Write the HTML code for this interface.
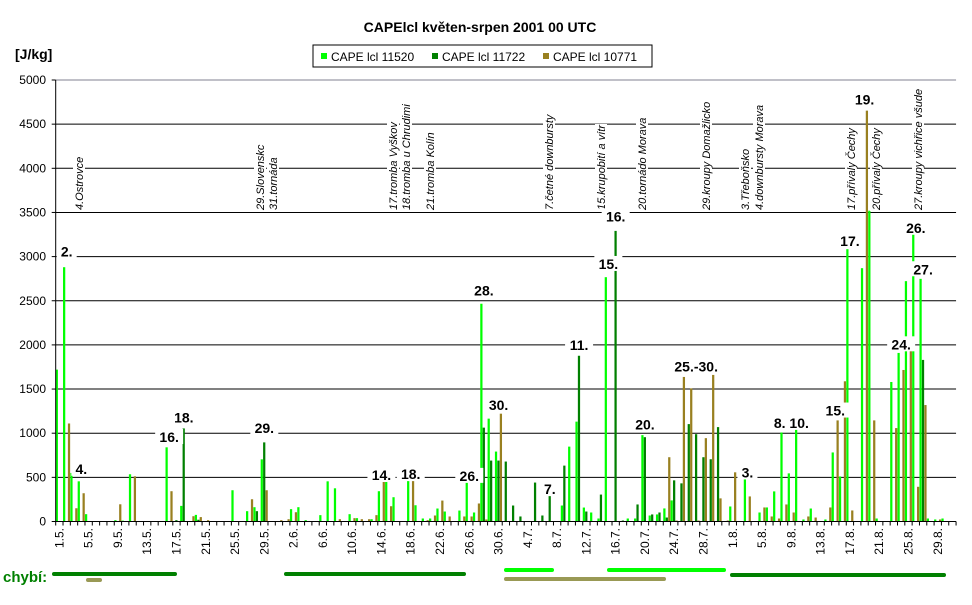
<!DOCTYPE html>
<html><head><meta charset="utf-8">
<style>
html,body{margin:0;padding:0;background:#fff;}
svg{display:block;font-family:"Liberation Sans",Arial,sans-serif;}
</style></head>
<body>
<svg id="chart" width="972" height="605" viewBox="0 0 972 605" xmlns="http://www.w3.org/2000/svg">
<text x="480" y="32" font-size="14" font-weight="bold" text-anchor="middle">CAPElcl květen-srpen 2001 00 UTC</text>
<text x="15" y="59" font-size="14" font-weight="bold">[J/kg]</text>
<g>
<rect x="313" y="45" width="339" height="22" fill="#fff" stroke="#000"/>
<rect x="321" y="53" width="6" height="6" fill="#00ff00"/>
<text x="331" y="61" font-size="12">CAPE lcl 11520</text>
<rect x="432" y="53" width="6" height="6" fill="#008000"/>
<text x="442" y="61" font-size="12">CAPE lcl 11722</text>
<rect x="543" y="53" width="6" height="6" fill="#998020"/>
<text x="553" y="61" font-size="12">CAPE lcl 10771</text>
</g>
<g id="grid"></g>
<g id="bars"></g>
<g id="notes"></g>
<g id="axes"></g>
<g>
<text x="3" y="582" font-size="15" font-weight="bold" fill="#008000">chybí:</text>
<line x1="54" y1="574" x2="175" y2="574" stroke="#008000" stroke-width="4" stroke-linecap="round"/>
<line x1="286" y1="574" x2="464" y2="574" stroke="#008000" stroke-width="4" stroke-linecap="round"/>
<line x1="732" y1="575" x2="944" y2="575" stroke="#008000" stroke-width="4" stroke-linecap="round"/>
<line x1="506" y1="570" x2="552" y2="570" stroke="#00ff00" stroke-width="4" stroke-linecap="round"/>
<line x1="609" y1="570" x2="724" y2="570" stroke="#00ff00" stroke-width="4" stroke-linecap="round"/>
<line x1="88" y1="580" x2="100" y2="580" stroke="#999955" stroke-width="4" stroke-linecap="round"/>
<line x1="506" y1="579" x2="664" y2="579" stroke="#999955" stroke-width="4" stroke-linecap="round"/>
</g>
</svg>
<script>
const seriesNames = ["CAPE lcl 11520","CAPE lcl 11722","CAPE lcl 10771"];
const cape11520 = [1720,2880,550,455,83,0,0,0,15,10,535,0,0,0,0,840,0,177,0,75,0,0,0,0,354,0,117,162,704,0,0,0,140,162,15,0,72,455,376,0,83,38,0,26,343,493,275,0,580,184,34,34,147,113,0,124,600,102,2466,1165,792,0,0,0,0,0,0,0,0,181,848,1131,158,102,34,2767,0,0,34,34,978,68,80,148,239,0,0,0,0,0,0,0,170,0,478,0,102,159,341,1008,545,1043,23,147,0,23,782,510,3084,0,2869,3520,34,0,1580,1909,2722,3251,2748,34,23,34,0];
const cape11722 = [0,0,0,0,0,0,0,0,0,0,0,0,0,0,0,0,15,1054,0,20,0,0,0,0,0,0,0,117,896,0,0,0,0,0,0,0,0,0,0,0,0,0,0,0,0,0,0,0,0,0,0,0,0,0,0,0,0,0,1063,690,690,679,181,57,0,441,68,294,0,633,0,1877,113,0,305,0,3291,11,0,193,955,80,102,45,466,432,1103,989,728,705,1069,0,0,0,0,0,0,0,0,0,0,0,0,0,0,0,0,0,0,0,0,0,0,0,0,0,0,0,1830,0,0,0,0];
const cape10771 = [0,1110,150,320,0,0,0,0,195,0,512,0,0,0,0,343,0,0,60,50,15,0,0,0,0,0,252,0,354,0,15,26,105,0,0,0,0,0,26,0,38,26,26,72,614,173,0,0,478,0,15,68,237,57,0,57,57,204,23,0,1221,0,0,0,0,0,0,0,0,0,0,0,0,0,0,0,0,0,0,0,0,0,0,728,11,1637,1508,11,944,1660,262,11,557,0,284,0,159,57,34,193,102,0,57,45,0,159,1145,1588,125,0,4653,1145,0,0,1058,1716,1992,393,1319,0,23,0,0];
const yTicks = [0,500,1000,1500,2000,2500,3000,3500,4000,4500,5000];
const xTickLabels = ["1.5.","5.5.","9.5.","13.5.","17.5.","21.5.","25.5.","29.5.","2.6.","6.6.","10.6.","14.6.","18.6.","22.6.","26.6.","30.6.","4.7.","8.7.","12.7.","16.7.","20.7.","24.7.","28.7.","1.8.","5.8.","9.8.","13.8.","17.8.","21.8.","25.8.","29.8."];
const peakLabels = ["2.","4.","16.","18.","29.","14.","18.","26.","28.","30.","7.","11.","15.","16.","20.","25.-30.","3.","8. 10.","15.","17.","19.","24.","26.","27."];
const peakDays = [1,3,15,17,28,44,48,56,58,60,67,71,75,76,80,87,94,100,106,108,110,115,117,118];
const peakValues = [3000,540,900,1120,1000,470,480,460,2560,1260,310,1940,2860,3400,1040,1700,500,1060,1200,3120,4720,1950,3270,2800];
const eventNotes = ["4.Ostrovce","29.Slovenskc","31.tornáda","17.tromba Vyškov","18.tromba u Chrudimi","21.tromba Kolín","7.četné downbursty","15.krupobití a vítr","20.tornádo Morava","29.kroupy Domažlicko","3.Třeboňsko","4.downbursty Morava","17.přívaly Čechy","20.přívaly Čechy","27.kroupy vichřice všude"];
const eventNoteX = [79,260,273,393,406,430,549,601,642,706,745,759,851,876,918];

const NS="http://www.w3.org/2000/svg";
const X0=55.7, PITCH=7.32, Y0=521.5, YTOP=80, VMAX=5000;
const nDays=cape11520.length;
function xDay(i){return X0+i*PITCH;}
function yVal(v){return Y0-(v/VMAX)*(Y0-YTOP);}
function mk(tag,attrs,parent){const e=document.createElementNS(NS,tag);for(const k in attrs)e.setAttribute(k,attrs[k]);parent.appendChild(e);return e;}

const grid=document.getElementById('grid');
yTicks.forEach((t,i)=>{
  const ln=mk('line',{x1:X0,x2:X0+nDays*PITCH,y1:yVal(t),y2:yVal(t),stroke:t===VMAX?'#808090':'#000','stroke-width':1},grid);
  
  
  const lb=mk('text',{x:46,y:yVal(t)+4,'font-size':12,'text-anchor':'end'},grid);
  lb.textContent=String(t);
  
  
});

const notes=document.getElementById('notes');
eventNotes.forEach((t,k)=>{
  const x=eventNoteX[k]+4;
  const g=mk('g',{transform:'translate('+x+',210) rotate(-90)'},notes);
  const tx=mk('text',{x:0,y:0,'font-size':11,'font-style':'italic'},g);
  tx.textContent=t;
  
  
  const w=tx.getComputedTextLength();
  const bg=document.createElementNS(NS,'rect');
  bg.setAttribute('x',-1);bg.setAttribute('y',-10);bg.setAttribute('width',w+2);bg.setAttribute('height',12);bg.setAttribute('fill','#fff');
  
  
  g.insertBefore(bg,tx);
});

const bars=document.getElementById('bars');
const series=[cape11520,cape11722,cape10771];
const colors=["#00ff00","#008000","#998020"];
const bw=PITCH/3;
series.forEach((arr,s)=>{
  arr.forEach((v,i)=>{
    if(v<=0)return;
    const r=mk('rect',{x:xDay(i)+s*bw,y:yVal(v),width:bw-0.2,height:Y0-yVal(v),fill:colors[s]},bars);
    
    
  });
});

peakLabels.forEach((t,k)=>{
  const x=xDay(peakDays[k])+PITCH/2, y=yVal(peakValues[k]);
  const w=t.length*8+4;
  const bg=mk('rect',{x:x-w/2,y:y-13,width:w,height:15,fill:'#fff'},notes);
  
  
  const tx=mk('text',{x:x,y:y,'font-size':14,'font-weight':'bold','text-anchor':'middle'},notes);
  tx.textContent=t;
  
  
});

const axes=document.getElementById('axes');
const ya=mk('line',{x1:X0,x2:X0,y1:YTOP,y2:Y0,stroke:'#000'},axes);


const xa=mk('line',{x1:X0,x2:X0+nDays*PITCH,y1:Y0,y2:Y0,stroke:'#000'},axes);


yTicks.forEach(t=>{
  const tk=mk('line',{x1:X0-4,x2:X0,y1:yVal(t),y2:yVal(t),stroke:'#000'},axes);
  
  
});
for(let i=0;i<=nDays;i++){
  const tk=mk('line',{x1:xDay(i),x2:xDay(i),y1:Y0,y2:Y0+4,stroke:'#000'},axes);
  
  
}
xTickLabels.forEach((t,k)=>{
  const x=xDay(k*4)+PITCH/2+4;
  const tx=mk('text',{x:0,y:0,'font-size':12,'text-anchor':'end',transform:'translate('+x+',528) rotate(-90)'},axes);
  tx.textContent=t;
  
  
});
</script>
</body></html>
